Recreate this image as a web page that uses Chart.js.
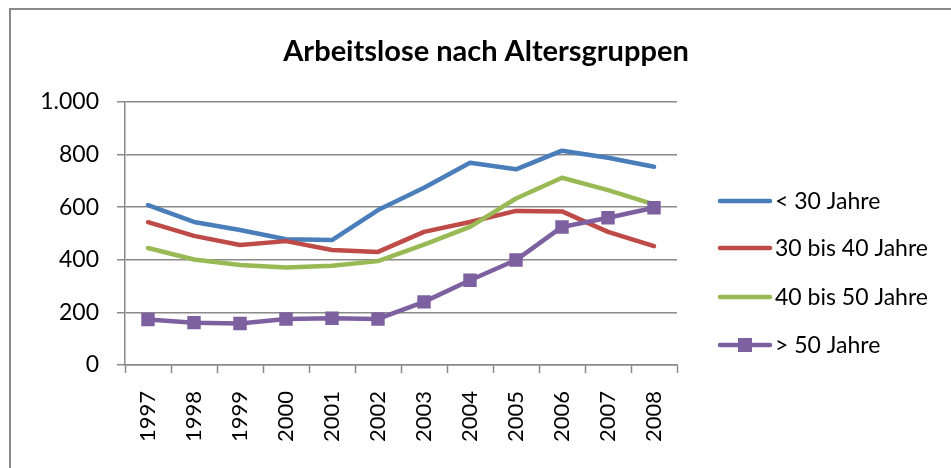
<!DOCTYPE html>
<html>
<head>
<meta charset="utf-8">
<script src="https://cdn.jsdelivr.net/npm/chart.js@4"></script>
<style>
  html, body { margin: 0; padding: 0; background: #fff; }
  canvas { display: block; }
</style>
</head>
<body>
<canvas id="chart" width="951" height="468"></canvas>
<script>
// data
const years = ['1997', '1998', '1999', '2000', '2001', '2002', '2003', '2004', '2005', '2006', '2007', '2008'];
const under30 = [608, 544, 513, 478, 475, 589, 674, 769, 744, 815, 788, 754];
const from30to40 = [543, 491, 456, 471, 437, 430, 506, 544, 586, 584, 506, 452];
const from40to50 = [445, 401, 380, 371, 377, 395, 458, 525, 633, 712, 665, 611];
const over50 = [173, 161, 158, 175, 178, 175, 240, 322, 399, 525, 560, 598];
const seriesLabels = ['< 30 Jahre', '30 bis 40 Jahre', '40 bis 50 Jahre', '> 50 Jahre'];
const yTicks = [0, 200, 400, 600, 800, 1000];
const chartTitle = 'Arbeitslose nach Altersgruppen';

const FONT = 'Lato, "Open Sans", sans-serif';
const GRID = '#8a8a8a';

function lineSet(label, data, color, order, marker) {
    return {
        label,
        data,
        borderColor: color,
        backgroundColor: color,
        borderWidth: 4.5,
        borderJoinStyle: 'round',
        borderCapStyle: 'round',
        tension: 0,
        fill: false,
        order,
        pointStyle: 'rect',
        pointRadius: marker ? 9.5 : 0,
        pointBorderWidth: 0
    };
}

// frame, title and legend placed like the Excel chart
const framePlugin = {
    id: 'frame',
    beforeDraw(chart) {
        const ctx = chart.ctx;
        ctx.save();
        ctx.strokeStyle = GRID;
        ctx.lineWidth = 2;
        ctx.beginPath();
        ctx.moveTo(10, chart.height);
        ctx.lineTo(10, 9);
        ctx.lineTo(chart.width, 9);
        ctx.stroke();

        ctx.fillStyle = '#000';
        ctx.font = 'bold 29px ' + FONT;
        ctx.textAlign = 'center';
        ctx.textBaseline = 'middle';
        ctx.fillText(chartTitle, 486, 52);
        ctx.restore();
    },
    afterDraw(chart) {
        const ctx = chart.ctx;
        const rows = [201, 248, 297, 345];
        ctx.save();
        ctx.font = '23px ' + FONT;
        ctx.textBaseline = 'middle';
        ctx.fillStyle = '#000';
        chart.data.datasets.forEach((ds, i) => {
            const y = rows[i];
            ctx.strokeStyle = ds.borderColor;
            ctx.lineWidth = 4.5;
            ctx.lineCap = 'round';
            ctx.beginPath();
            ctx.moveTo(720, y);
            ctx.lineTo(770, y);
            ctx.stroke();
            if (ds.pointRadius > 0) {
                ctx.fillStyle = ds.borderColor;
                ctx.fillRect(738, y - 7, 14, 14);
                ctx.fillStyle = '#000';
            }
            ctx.fillText(ds.label, 775, y + 1);
        });
        ctx.restore();
    }
};

const ctx = document.getElementById('chart').getContext('2d');
new Chart(ctx, {
    type: 'line',
    data: {
        labels: years,
        datasets: [
            lineSet(seriesLabels[0], under30, '#4a7ebb', 4, false),
            lineSet(seriesLabels[1], from30to40, '#be4b48', 3, false),
            lineSet(seriesLabels[2], from40to50, '#98b954', 2, false),
            lineSet(seriesLabels[3], over50, '#7d60a0', 1, true)
        ]
    },
    options: {
        responsive: false,
        animation: false,
        layout: { padding: { top: 102, right: 274, bottom: 0, left: 0 } },
        plugins: {
            legend: { display: false },
            tooltip: { enabled: false },
            title: { display: false }
        },
        scales: {
            x: {
                offset: true,
                grid: {
                    offset: true,
                    drawOnChartArea: false,
                    drawTicks: true,
                    tickLength: 8,
                    tickColor: GRID,
                    tickWidth: 1.5
                },
                border: { color: GRID, width: 1.5 },
                ticks: {
                    color: '#000',
                    font: { family: FONT, size: 22 },
                    minRotation: 90,
                    maxRotation: 90,
                    padding: 18
                },
                afterFit(scale) { scale.height = 103; }
            },
            y: {
                min: 0,
                max: 1000,
                afterBuildTicks(scale) { scale.ticks = yTicks.map(v => ({ value: v })); },
                grid: {
                    color: GRID,
                    lineWidth: 1.5,
                    tickLength: 8,
                    tickColor: GRID
                },
                border: { color: GRID, width: 1.5 },
                ticks: {
                    color: '#000',
                    font: { family: FONT, size: 23 },
                    padding: 18,
                    callback: v => v.toLocaleString('de-DE')
                },
                afterFit(scale) { scale.width = 125; }
            }
        }
    },
    plugins: [framePlugin]
});
</script>
</body>
</html>
